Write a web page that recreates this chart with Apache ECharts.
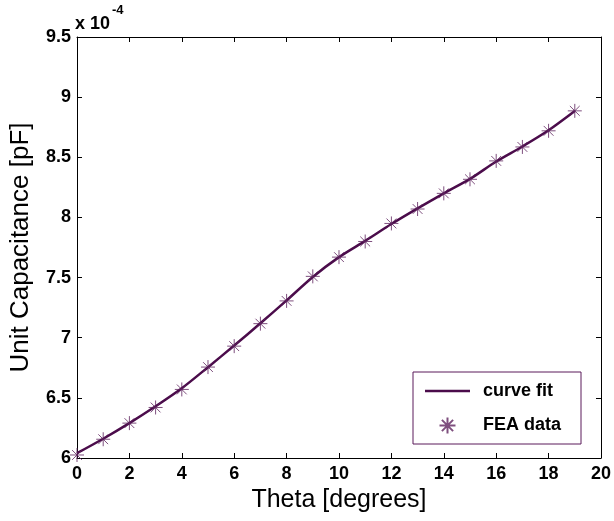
<!DOCTYPE html>
<html>
<head>
<meta charset="utf-8">
<script src="https://cdn.jsdelivr.net/npm/echarts@6/dist/echarts.min.js"></script>
<style>
	html, body { margin: 0; padding: 0; background: #fff; }
	#main { width: 614px; height: 521px; }
</style>
</head>
<body>
<div id="main"></div>
<script>
	// values (y in units of 1e-4 pF)
	var thetaDeg = [0, 1, 2, 3, 4, 5, 6, 7, 8, 9, 10, 11, 12, 13, 14, 15, 16, 17, 18, 19];
	var feaData = [6.025, 6.156, 6.29, 6.42, 6.57, 6.756, 6.93, 7.117, 7.306, 7.51, 7.67, 7.80, 7.95, 8.07, 8.20, 8.317, 8.47, 8.586, 8.72, 8.886];
	var fitData = [6.04, 6.16, 6.29, 6.43, 6.58, 6.755, 6.935, 7.12, 7.31, 7.505, 7.67, 7.805, 7.945, 8.075, 8.20, 8.32, 8.465, 8.59, 8.725, 8.885];
	var xTicks = { min: 0, max: 20, interval: 2 };
	var yTicks = { min: 6, max: 9.5, interval: 0.5 };

	var lineColor = '#4b0c4b';
	var markColor = '#5e235e';
	var font = 'Liberation Sans, Arial, sans-serif';

	function pairs(xs, ys) {
		var out = [];
		for (var i = 0; i < xs.length; i++) {
			out.push([xs[i], ys[i]]);
		}
		return out;
	}

	//坐标轴
	function makeAxis(t, pos, showLabel) {
		return {
			type: 'value',
			position: pos,
			min: t.min,
			max: t.max,
			interval: t.interval,
			splitLine: { show: false },
			axisLine: { show: true, onZero: false, lineStyle: { color: '#000', width: 1 } },
			axisTick: { show: true, inside: true, length: 5, lineStyle: { color: '#000' } },
			axisLabel: {
				show: showLabel,
				color: '#000',
				fontFamily: font,
				fontWeight: 'bold',
				fontSize: 18,
				margin: pos == 'left' ? 6 : 7
			}
		};
	}

	var chart = echarts.init(document.getElementById('main'), null, { renderer: 'canvas' });

	var xMain = makeAxis(xTicks, 'bottom', true);
	xMain.name = 'Theta [degrees]';
	xMain.nameLocation = 'middle';
	xMain.nameGap = 27;
	xMain.nameTextStyle = { fontFamily: font, fontSize: 25, color: '#000' };

	var yMain = makeAxis(yTicks, 'left', true);
	yMain.name = 'Unit Capacitance [pF]';
	yMain.nameLocation = 'middle';
	yMain.nameGap = 43;
	yMain.nameTextStyle = { fontFamily: font, fontSize: 26, color: '#000' };

	// legend sample for the fitted curve: a thin bar inside a 45x16 box
	var lineIcon = 'path://M0,0L0.01,0M0,6.75L45,6.75L45,9.25L0,9.25ZM45,16L44.99,16';

	chart.setOption({
		animation: false,
		backgroundColor: '#fff',
		grid: { left: 74, right: 10, top: 37, bottom: 63 },
		xAxis: [xMain, makeAxis(xTicks, 'top', false)],
		yAxis: [yMain, makeAxis(yTicks, 'right', false)],
		legend: {
			orient: 'vertical',
			left: 413,
			top: 372,
			padding: [10, 20, 8, 12],
			itemWidth: 45,
			itemHeight: 16,
			itemGap: 15,
			borderColor: '#5a1a5a',
			borderWidth: 1,
			backgroundColor: '#fff',
			textStyle: { fontFamily: font, fontWeight: 'bold', fontSize: 18, color: '#000', padding: [0, 0, 0, 8] },
			data: [{ name: 'curve fit', icon: lineIcon }, { name: 'FEA data' }]
		},
		graphic: [
			{ type: 'text', left: 75, top: 15, style: { text: 'x 10', fontFamily: font, fontWeight: 'bold', fontSize: 18, fill: '#000' } },
			{ type: 'text', left: 112, top: 4, style: { text: '-4', fontFamily: font, fontWeight: 'bold', fontSize: 13, fill: '#000' } }
		],
		series: [{
			name: 'curve fit',
			type: 'line',
			smooth: 0.3,
			symbol: 'none',
			lineStyle: { color: lineColor, width: 2.5 },
			itemStyle: { color: lineColor },
			data: pairs(thetaDeg, fitData),
			z: 3
		}, {
			name: 'FEA data',
			type: 'scatter',
			symbol: 'path://M5,0L5,10M0,5L10,5M1.5,1.5L8.5,8.5M1.5,8.5L8.5,1.5',
			symbolSize: 14,
			itemStyle: { color: 'none', borderColor: markColor, borderWidth: 1 },
			data: pairs(thetaDeg, feaData),
			z: 4
		}]
	});
</script>
</body>
</html>
